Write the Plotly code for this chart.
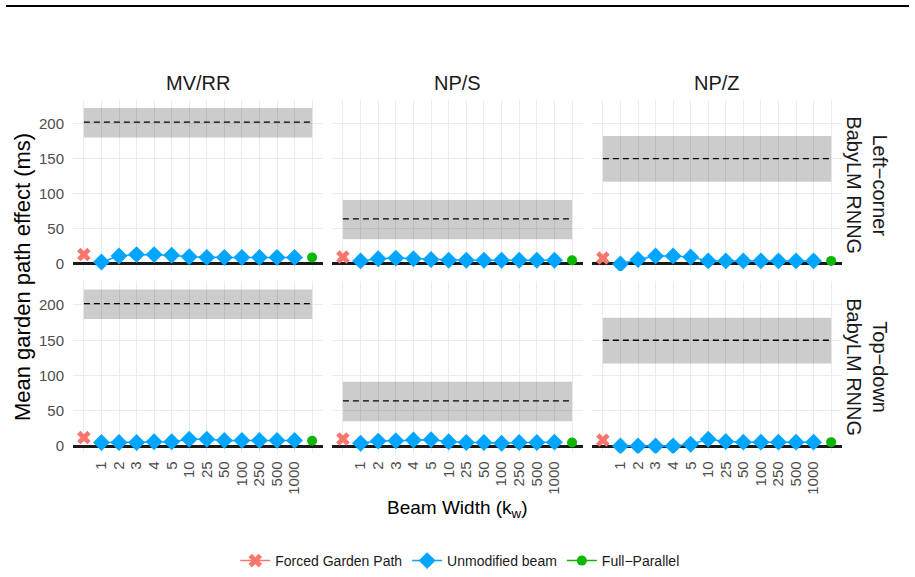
import plotly.graph_objects as go

# ---------------- data ----------------
beam_widths = ["1", "2", "3", "4", "5", "10", "25", "50", "100", "250", "500", "1000"]
tick_labels = [""] + beam_widths + [""]
constructions = ["MV/RR", "NP/S", "NP/Z"]
models = ["Left\u2212corner<br>BabyLM RNNG", "Top\u2212down<br>BabyLM RNNG"]

# Forced garden path (one value per panel)  rows: models, cols: constructions
forced_lc = [13, 9.5, 8]
forced_td = [12, 10, 8.5]

# Unmodified beam
unmod_lc_mvrr = [2.5, 11, 13, 13, 12, 10, 9, 9, 9, 9, 9, 9]
unmod_lc_nps = [4, 7, 8, 7, 6, 5, 5, 5, 5, 5, 5, 5]
unmod_lc_npz = [-0.5, 6, 11, 11, 9.5, 4, 4, 4, 4, 4, 4, 4]
unmod_td_mvrr = [5, 5, 5, 6, 6, 9.5, 9.5, 8, 8, 8, 8, 8]
unmod_td_nps = [4, 7, 7.5, 8.5, 9, 6, 5, 5, 4, 5, 5, 5.5]
unmod_td_npz = [0, 0, 0, 0, 2.5, 9.5, 6.5, 5.5, 5.5, 5.5, 5.5, 5.5]

# Full-parallel
full_lc = [9, 5, 4]
full_td = [7.5, 5, 5.5]

# Human garden path effect (mean, lower, upper) per construction
human_mean = [202, 64, 150]
human_lo = [180, 35, 117]
human_hi = [222, 91, 182]

y_ticks = [0, 50, 100, 150, 200]

forced = [forced_lc, forced_td]
unmod = [[unmod_lc_mvrr, unmod_lc_nps, unmod_lc_npz], [unmod_td_mvrr, unmod_td_nps, unmod_td_npz]]
full = [full_lc, full_td]

# ---------------- style ----------------
W, H = 915, 577
FONT = "Liberation Sans, Arial, Helvetica, sans-serif"
C_FORCED = "#F8766D"
C_UNMOD = "#00A5FF"
C_FULL = "#0CB702"
x_pos = list(range(len(tick_labels)))
beam_pos = x_pos[1:-1]

col_px = [(73, 323), (332, 583), (592, 842)]
row_px = [(100, 272), (282, 455)]

fig = go.Figure()
layout = {}

for r in range(2):
    for c in range(3):
        i = r * 3 + c + 1
        xa = "x" if i == 1 else f"x{i}"
        ya = "y" if i == 1 else f"y{i}"
        first = (r == 0 and c == 0)
        # human band
        fig.add_trace(go.Scatter(
            x=[x_pos[0], x_pos[-1], x_pos[-1], x_pos[0], x_pos[0]],
            y=[human_lo[c], human_lo[c], human_hi[c], human_hi[c], human_lo[c]],
            fill="toself", fillcolor="rgba(0,0,0,0.2)", mode="lines",
            line=dict(width=0), hoverinfo="skip", showlegend=False,
            xaxis=xa, yaxis=ya))
        fig.add_trace(go.Scatter(
            x=[x_pos[0], x_pos[-1]], y=[human_mean[c], human_mean[c]],
            mode="lines", line=dict(color="black", width=1.3, dash="6px,4px"),
            showlegend=False, hoverinfo="skip", xaxis=xa, yaxis=ya))
        # model series
        fig.add_trace(go.Scatter(
            x=[x_pos[0]], y=[forced[r][c]], mode="lines+markers",
            name="Forced Garden Path", legendgroup="f", showlegend=first,
            marker=dict(symbol="x", size=12, color=C_FORCED, line=dict(width=0)),
            line=dict(color=C_FORCED, width=1.5),
            xaxis=xa, yaxis=ya))
        fig.add_trace(go.Scatter(
            x=beam_pos, y=unmod[r][c], mode="lines+markers",
            name="Unmodified beam", legendgroup="u", showlegend=first,
            marker=dict(symbol="diamond", size=13, color=C_UNMOD, line=dict(width=0)),
            line=dict(color=C_UNMOD, width=1.5),
            xaxis=xa, yaxis=ya))
        fig.add_trace(go.Scatter(
            x=[x_pos[-1]], y=[full[r][c]], mode="lines+markers",
            name="Full\u2212Parallel", legendgroup="p", showlegend=first,
            marker=dict(symbol="circle", size=10, color=C_FULL, line=dict(width=0)),
            line=dict(color=C_FULL, width=1.5),
            xaxis=xa, yaxis=ya))

        x0, x1 = col_px[c]
        y0, y1 = row_px[r]
        layout["xaxis" if i == 1 else f"xaxis{i}"] = dict(
            domain=[x0 / W, x1 / W], anchor=ya, range=[-0.62, len(x_pos) - 1 + 0.62],
            tickvals=x_pos, ticktext=tick_labels, showticklabels=(r == 1),
            tickangle=-90, tickfont=dict(size=15, color="#4d4d4d", family=FONT),
            showgrid=True, gridcolor="#EBEBEB", gridwidth=1.3, zeroline=False,
            showline=False, ticks="", ticklabelstandoff=4, fixedrange=True)
        layout["yaxis" if i == 1 else f"yaxis{i}"] = dict(
            domain=[1 - y1 / H, 1 - y0 / H], anchor=xa, range=[-10.5, 234],
            tickvals=y_ticks, showticklabels=(c == 0),
            tickfont=dict(size=15, color="#4d4d4d", family=FONT),
            showgrid=True, gridcolor="#EBEBEB", gridwidth=1.3,
            zeroline=True, zerolinecolor="#1a1a1a", zerolinewidth=3,
            showline=False, ticks="", ticklabelstandoff=8, fixedrange=True)

annotations = []
for c, name in enumerate(constructions):
    x0, x1 = col_px[c]
    annotations.append(dict(text=name, x=(x0 + x1) / 2 / W, y=1 - 83 / H, xref="paper", yref="paper",
                            showarrow=False, font=dict(size=20, color="#1a1a1a", family=FONT),
                            xanchor="center", yanchor="middle"))
for r, name in enumerate(models):
    y0, y1 = row_px[r]
    annotations.append(dict(text=name, x=867 / W, y=1 - (y0 + y1) / 2 / H, xref="paper", yref="paper",
                            showarrow=False, textangle=90, font=dict(size=20, color="#1a1a1a", family=FONT),
                            xanchor="center", yanchor="middle"))
annotations.append(dict(text="Mean garden path effect (ms)", x=22 / W, y=1 - 278 / H, xref="paper", yref="paper",
                        showarrow=False, textangle=-90, font=dict(size=22, color="#000000", family=FONT),
                        xanchor="center", yanchor="middle"))
annotations.append(dict(text="Beam Width (k<sub>w</sub>)", x=(col_px[1][0] + col_px[1][1]) / 2 / W, y=1 - 511 / H,
                        xref="paper", yref="paper", showarrow=False,
                        font=dict(size=19, color="#000000", family=FONT), xanchor="center", yanchor="middle"))

fig.update_layout(
    **layout,
    width=W, height=H,
    margin=dict(l=0, r=0, t=0, b=0),
    paper_bgcolor="white", plot_bgcolor="white",
    font=dict(family=FONT, color="#1a1a1a"),
    annotations=annotations,
    shapes=[dict(type="line", xref="paper", yref="paper", x0=6 / W, x1=909 / W,
                 y0=1 - 6 / H, y1=1 - 6 / H, line=dict(color="black", width=2))],
    legend=dict(orientation="h", x=0.503, xanchor="center", y=1 - 563 / H, yanchor="middle",
                font=dict(size=14, color="#1a1a1a", family=FONT), bgcolor="rgba(0,0,0,0)",
                itemwidth=30, tracegroupgap=0),
    showlegend=True,
)

fig.write_html("out.html")
